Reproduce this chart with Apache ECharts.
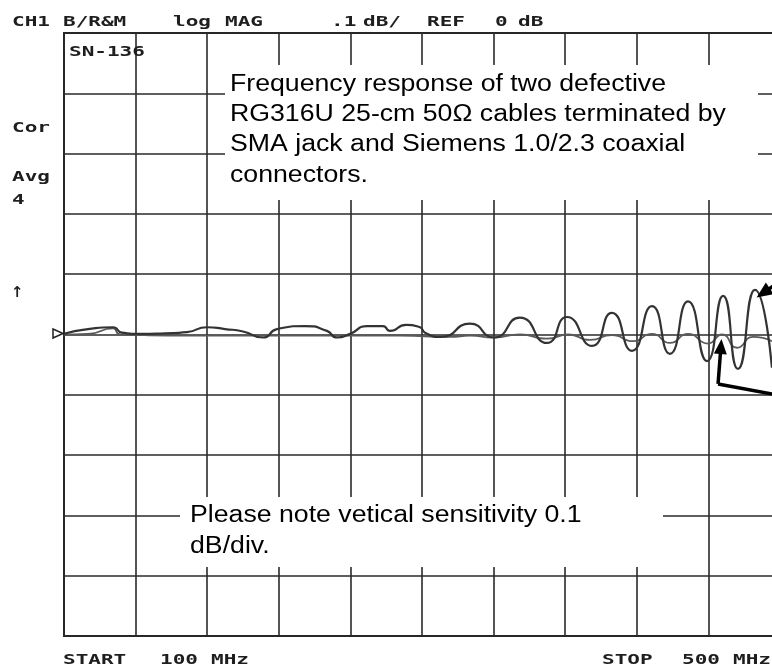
<!DOCTYPE html>
<html>
<head>
<meta charset="utf-8">
<script src="https://cdn.jsdelivr.net/npm/echarts@6/dist/echarts.min.js"></script>
<style>
html,body{margin:0;padding:0;background:#fff;}
#c{width:772px;height:667px;}
</style>
</head>
<body>
<div id="c"></div>
<script>
// Sweep: 100 MHz to 500 MHz, 40 MHz/div; log MAG 0.1 dB/div, REF 0 dB
const xTicks = [100, 140, 180, 220, 260, 300, 340, 380, 420, 460, 500];
const yTicks = [-0.5, -0.4, -0.3, -0.2, -0.1, 0, 0.1, 0.2, 0.3, 0.4, 0.5];

// Trace A (strong ripple)
const freqA = [100.0,113.4,127.4,132.4,142.5,156.4,168.7,179.9,189.9,200.0,211.2,219.0,234.6,246.9,252.5,259.8,269.3,278.2,282.1,291.1,298.9,301.7,310.6,326.8,340.2,354.7,369.8,381.0,395.0,406.1,417.3,428.5,438.5,448.6,459.2,468.2,476.5,486.0,495.5];
const magA  = [0.001,0.009,0.012,0.003,0.001,0.002,0.004,0.012,0.009,0.005,-0.005,0.009,0.014,0.006,-0.005,0.001,0.014,0.014,0.006,0.016,0.012,0.003,-0.004,0.018,-0.005,0.028,-0.014,0.029,-0.019,0.036,-0.027,0.047,-0.032,0.055,-0.044,0.064,-0.057,0.074,-0.055];

// Trace B (weak ripple)
const freqB = [100.0,113.4,127.4,131.3,176.0,211.2,252.5,287.7,315.6,326.8,340.2,354.7,369.8,381.6,393.9,406.1,417.9,428.5,438.5,448.6,459.8,467.6,476.0,484.9,495.5];
const magB  = [0.000,0.001,0.010,0.000,-0.002,-0.002,-0.002,-0.002,-0.004,-0.002,-0.005,0.000,-0.007,0.000,-0.009,-0.001,-0.011,0.001,-0.014,0.001,-0.015,0.000,-0.022,-0.004,-0.011];

// Pointer arrows (data coordinates: MHz, dB)
const arrowUpper = [[500, 0.088], [490.6, 0.069]];
const arrowLowerShaft = [[465.4, -0.082], [467.0, -0.020]];
const arrowLowerLeg = [[465.4, -0.082], [500, -0.101]];

const headerWords = [['CH1',12],['B/R&M',63],['log',173],['MAG',225],['.1',331],['dB/',363],['REF',427],['0',495],['dB',518]];
const footerWords = [['START',63],['100',160],['MHz',211],['STOP',602],['500',682],['MHz',733]];
const sideWords = [['Cor',12,128],['Avg',12,177],['4',12,200],['SN-136',69,52]];

const note1 = ['Frequency response of two defective','RG316U 25-cm 50\u03A9 cables terminated by','SMA jack and Siemens 1.0/2.3 coaxial','connectors.'];
const note2 = ['Please note vetical sensitivity 0.1','dB/div.'];

function plotText(t, x, y){
  return {type:'text', x:x, y:y, scaleX:1.5, z:60,
    style:{text:t, fill:'#1e1e1e', font:'bold 14px "DejaVu Sans Mono"', align:'left', verticalAlign:'middle'}};
}
function noteText(t, x, baseline){
  return {type:'text', x:x, y:baseline-8, scaleX:1.16, z:61,
    style:{text:t, fill:'#000', font:'23px "Liberation Sans", Arial, sans-serif', align:'left', verticalAlign:'middle'}};
}

const graphics = [];
headerWords.forEach(w => graphics.push(plotText(w[0], w[1], 22)));
footerWords.forEach(w => graphics.push(plotText(w[0], w[1], 660)));
sideWords.forEach(w => graphics.push(plotText(w[0], w[1], w[2])));
graphics.push({type:'text', x:11, y:293, z:60, style:{text:'\u2191', fill:'#1e1e1e', font:'bold 15px "DejaVu Sans"', align:'left', verticalAlign:'middle'}});
graphics.push({type:'polygon', z:60, shape:{points:[[53,329],[63,333.5],[53,338]]}, style:{fill:'#fff', stroke:'#222', lineWidth:1.5}});
graphics.push({type:'rect', z:55, shape:{x:225, y:65, width:533, height:135}, style:{fill:'#fff'}});
graphics.push({type:'rect', z:55, shape:{x:180, y:497, width:483, height:70}, style:{fill:'#fff'}});
note1.forEach((t,i) => graphics.push(noteText(t, 230, 92.7 + i*30.2)));
note2.forEach((t,i) => graphics.push(noteText(t, 190, 524 + i*31)));

const chart = echarts.init(document.getElementById('c'), null, {renderer:'canvas'});
const lineSty = {color:'#000', width:3.5, type:'solid'};
chart.setOption({
  animation:false,
  backgroundColor:'#fff',
  grid:{left:64, top:33, width:716, height:603, outerBoundsMode:'none', containLabel:false,
    show:true, borderColor:'#222', borderWidth:2, backgroundColor:'transparent'},
  xAxis:{type:'value', min:xTicks[0], max:xTicks[xTicks.length-1], interval:40,
    axisLabel:{show:false}, axisTick:{show:false}, axisLine:{show:false},
    splitLine:{show:true, lineStyle:{color:'#2a2a2a', width:1.6}}},
  yAxis:{type:'value', min:yTicks[0], max:yTicks[yTicks.length-1], interval:0.1,
    axisLabel:{show:false}, axisTick:{show:false}, axisLine:{show:false},
    splitLine:{show:true, lineStyle:{color:'#2a2a2a', width:1.6}}},
  series:[
    {type:'line', name:'B', data:freqB.map((f,i)=>[f,magB[i]]), showSymbol:false, smooth:0.6,
      lineStyle:{color:'#5a5a5a', width:1.8}, z:3},
    {type:'line', name:'A', data:freqA.map((f,i)=>[f,magA[i]]), showSymbol:false, smooth:0.6,
      lineStyle:{color:'#333', width:2.2}, z:4,
      markLine:{silent:true, animation:false, label:{show:false}, lineStyle:lineSty, emphasis:{disabled:true},
        data:[
          [{coord:arrowUpper[0], symbol:'none'}, {coord:arrowUpper[1], symbol:'triangle', symbolSize:[14,16]}],
          [{coord:arrowLowerShaft[0], symbol:'none'}, {coord:arrowLowerShaft[1], symbol:'triangle', symbolSize:[13,15]}],
          [{coord:arrowLowerLeg[0], symbol:'none'}, {coord:arrowLowerLeg[1], symbol:'none'}]
        ]}}
  ],
  graphic:graphics
});
</script>
</body>
</html>
